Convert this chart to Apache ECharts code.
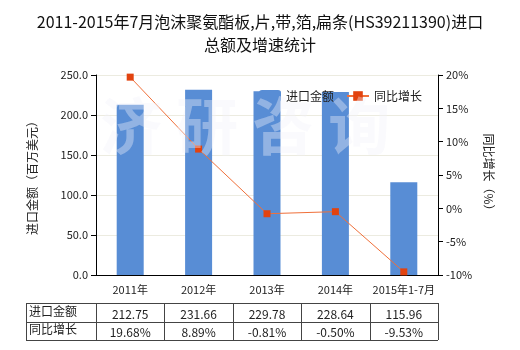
<!DOCTYPE html>
<html><head><meta charset="utf-8">
<script src="https://cdn.jsdelivr.net/npm/echarts@6/dist/echarts.min.js"></script>
<style>html,body{margin:0;padding:0;background:#fff}#c{width:520px;height:350px}</style>
</head><body><div id="c"></div>
<script>
var categories = ['2011年','2012年','2013年','2014年','2015年1-7月'];
var amountValues = [212.75, 231.66, 229.78, 228.64, 115.96];
var growthValues = [19.68, 8.89, -0.81, -0.50, -9.53];
var amountLabels = ['212.75','231.66','229.78','228.64','115.96'];
var growthLabels = ['19.68%','8.89%','-0.81%','-0.50%','-9.53%'];
var seriesNames = ['进口金额','同比增长'];

var FONT = '"Noto Sans CJK SC", "Noto Sans", sans-serif';
var gl = 96, gr = 438, gt = 75, gb = 275;
var colW = (gr - gl) / categories.length;
var tTop = 303, tMid = 322, tBot = 340, tLeft = 26;

var graphics = [];
graphics.push({type:'text', left:100, top:95, silent:true, z:10,
  style:{text:'济 研 咨 询', fill:'rgba(242,242,250,0.38)', font:'bold 62px ' + FONT}});
function line(x1,y1,x2,y2){graphics.push({type:'line',shape:{x1:x1,y1:y1,x2:x2,y2:y2},style:{stroke:'#444',lineWidth:1}});}
line(tLeft, tTop+0.5, gr, tTop+0.5);
line(tLeft, tMid+0.5, gr, tMid+0.5);
line(tLeft, tBot+0.5, gr, tBot+0.5);
line(tLeft+0.5, tTop, tLeft+0.5, tBot);
for (var i=0;i<=categories.length;i++){ var x=Math.round(gl+i*colW)+0.5; line(x,tTop,x,tBot); }
graphics.push({type:'text', left:tLeft+3, top:tTop+2, style:{text:seriesNames[0], fill:'#222', font:'12px '+FONT}});
graphics.push({type:'text', left:tLeft+3, top:tMid+1, style:{text:seriesNames[1], fill:'#222', font:'12px '+FONT}});
for (var j=0;j<categories.length;j++){
  var cx = gl + (j+0.5)*colW;
  graphics.push({type:'text', x:cx, y:tTop+11, style:{text:amountLabels[j], fill:'#222', font:'12px '+FONT, textAlign:'center', textVerticalAlign:'middle'}});
  graphics.push({type:'text', x:cx, y:tMid+10, style:{text:growthLabels[j], fill:'#222', font:'12px '+FONT, textAlign:'center', textVerticalAlign:'middle'}});
}

var chart = echarts.init(document.getElementById('c'));
chart.setOption({
  animation:false,
  backgroundColor:'#fff',
  textStyle:{fontFamily:FONT},
  title:{text:'2011-2015年7月泡沫聚氨酯板,片,带,箔,扁条(HS39211390)进口\n总额及增速统计',
    left:'center', top:5,
    textStyle:{fontSize:16, fontWeight:'normal', color:'#111', lineHeight:23, fontFamily:FONT}},
  legend:{top:85, left:254, itemGap:12, itemWidth:22, itemHeight:12,
    textStyle:{fontSize:12, color:'#222'},
    data:[{name:seriesNames[0]},{name:seriesNames[1]}]},
  grid:{left:gl, right:520-gr, top:gt, bottom:350-gb},
  xAxis:{type:'category', data:categories,
    axisLine:{lineStyle:{color:'#000'}},
    axisTick:{alignWithLabel:true, lineStyle:{color:'#000'}},
    axisLabel:{color:'#222', fontSize:11, margin:9, interval:0}},
  yAxis:[
    {type:'value', min:0, max:250, interval:50, name:'进口金额（百万美元）', nameLocation:'middle', nameGap:58,
     nameTextStyle:{fontSize:12, color:'#222'},
     axisLine:{show:true, lineStyle:{color:'#000'}}, axisTick:{show:true, lineStyle:{color:'#000'}},
     axisLabel:{color:'#222', fontSize:11, formatter:function(v){return v.toFixed(1);}},
     splitLine:{lineStyle:{color:'#ecebe0'}}},
    {type:'value', min:-10, max:20, interval:5, name:'同比增长（%）', nameLocation:'middle', nameGap:42, nameRotate:-90,
     nameTextStyle:{fontSize:12, color:'#222'},
     axisLine:{show:true, lineStyle:{color:'#000'}}, axisTick:{show:true, lineStyle:{color:'#000'}},
     axisLabel:{color:'#222', fontSize:11, formatter:'{value}%'},
     splitLine:{show:false}}
  ],
  series:[
    {name:seriesNames[0], type:'bar', data:amountValues, barWidth:27, itemStyle:{color:'#588dd5'}, z:2},
    {name:seriesNames[1], type:'line', yAxisIndex:1, data:growthValues, symbol:'rect', symbolSize:7,
     lineStyle:{color:'#f0703a', width:1}, itemStyle:{color:'#e2430f'}, z:3}
  ],
  graphic:graphics
});
</script></body></html>
